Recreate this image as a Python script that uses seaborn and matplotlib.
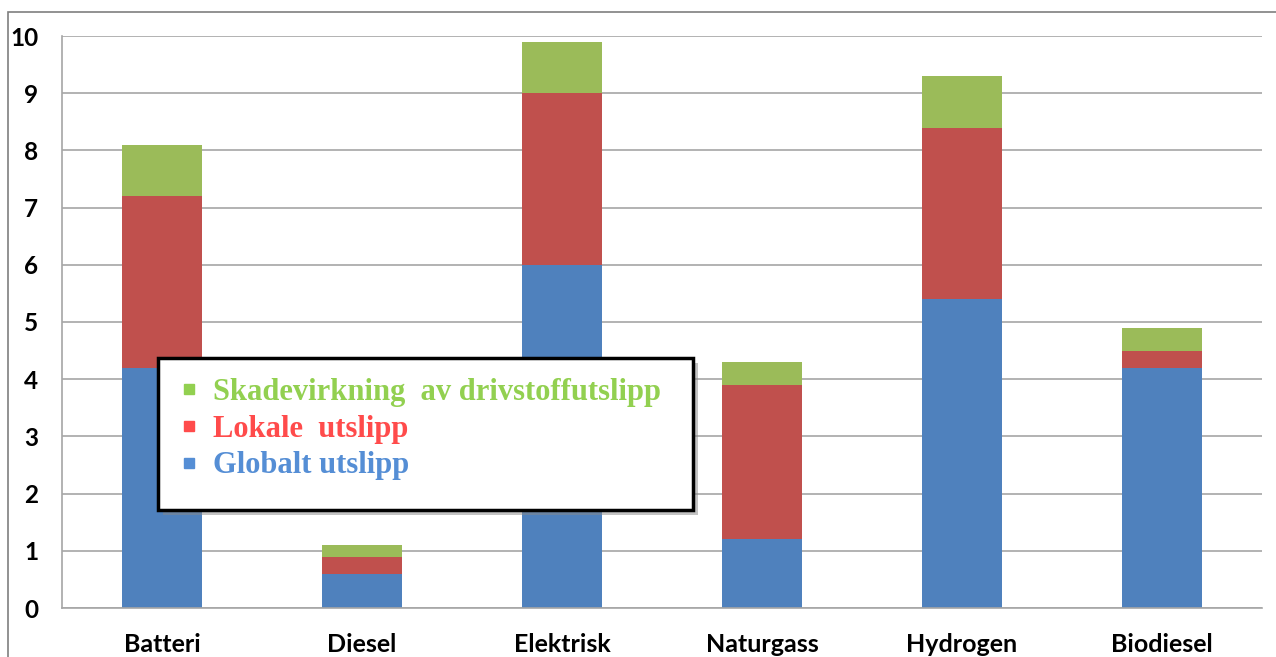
import matplotlib
matplotlib.use("Agg")
import matplotlib.pyplot as plt
from matplotlib.patches import Rectangle
from matplotlib.lines import Line2D
import numpy as np
import pandas as pd
import seaborn as sns

categories = ["Batteri", "Diesel", "Elektrisk", "Naturgass", "Hydrogen", "Biodiesel"]
globalt = [4.2, 0.6, 6.0, 1.2, 5.4, 4.2]
lokale = [3.0, 0.3, 3.0, 2.7, 3.0, 0.3]
skade = [0.9, 0.2, 0.9, 0.4, 0.9, 0.4]
series_labels = ["Skadevirkning  av drivstoffutslipp", "Lokale  utslipp", "Globalt utslipp"]
yticks = [0, 1, 2, 3, 4, 5, 6, 7, 8, 9, 10]

bar_blue, bar_red, bar_green = "#4F81BD", "#C0504D", "#9BBB59"
txt_green, txt_red, txt_blue = "#92D050", "#FF4B4B", "#558ED5"

sns.set_style("white")
plt.rcParams["font.family"] = ["Lato", "DejaVu Sans"]

df = pd.DataFrame({"cat": categories, "g": globalt, "l": lokale, "s": skade})
df["gl"] = df["g"] + df["l"]
df["tot"] = df["gl"] + df["s"]

fig = plt.figure(figsize=(12.76, 6.57), dpi=100)
ax = fig.add_axes([62 / 1276, 1 - 608 / 657, 1200 / 1276, 572 / 657])

for col, colr in [("tot", bar_green), ("gl", bar_red), ("g", bar_blue)]:
    sns.barplot(data=df, x="cat", y=col, color=colr, width=0.4, ax=ax,
                saturation=1, linewidth=0, order=categories)

ax.set_xlim(-0.5, len(categories) - 0.5)
ax.set_ylim(0, 10)
ax.set_yticks(yticks)
ax.set_yticklabels([str(t) for t in yticks], fontsize=17.5, fontweight="bold")
ax.set_xticks(range(len(categories)))
ax.set_xticklabels(categories, fontsize=18, fontweight="bold")
ax.set_xlabel("")
ax.set_ylabel("")
ax.yaxis.grid(True, color="#A6A6A6", linewidth=1.2)
ax.set_axisbelow(True)
for s in ["top", "right"]:
    ax.spines[s].set_visible(False)
ax.spines["left"].set_color("#A6A6A6")
ax.spines["bottom"].set_color("#A6A6A6")
ax.spines["left"].set_linewidth(1.2)
ax.spines["bottom"].set_linewidth(1.2)
ax.tick_params(axis="y", length=7, color="#A6A6A6", width=1.2, pad=10, labelcolor="black")
ax.tick_params(axis="x", length=0, pad=18, labelcolor="black")
# category boundary ticks
ax.set_xticks(np.arange(-0.5, len(categories), 1.0), minor=True)
ax.tick_params(axis="x", which="minor", length=8, color="#A6A6A6", width=1.2)

# legend box with shadow
bx0, by0 = (158 - 62) / 1200, (608 - 510) / 572
bw, bh = 535 / 1200, 152 / 572
ax.add_patch(Rectangle((bx0 + 5 / 1200, by0 - 5 / 572), bw, bh, transform=ax.transAxes,
                       facecolor="#888888", alpha=0.5, edgecolor="none", zorder=9, clip_on=False))
ax.add_patch(Rectangle((bx0, by0), bw, bh, transform=ax.transAxes, facecolor="white",
                       edgecolor="black", linewidth=2.5, zorder=10, clip_on=False))

handles = [Line2D([], [], marker="s", linestyle="none", markersize=7, color=c)
           for c in [txt_green, txt_red, txt_blue]]
leg = ax.legend(handles, series_labels, loc="upper left",
                bbox_to_anchor=((181 - 62) / 1200, (608 - 378) / 572),
                frameon=False, handlelength=0.5, handletextpad=0.55, labelspacing=0.25,
                borderpad=0, borderaxespad=0,
                prop={"family": "Liberation Serif", "weight": "bold", "size": 22})
leg.set_zorder(11)
for t, c in zip(leg.get_texts(), [txt_green, txt_red, txt_blue]):
    t.set_color(c)

# figure border
fig.patches.append(Rectangle((8 / 1276, -0.1), 1.2, 1 - 12 / 657 + 0.1, transform=fig.transFigure,
                             facecolor="none", edgecolor="#7F7F7F", linewidth=1.2, figure=fig))

fig.savefig("out.png", dpi=100)
